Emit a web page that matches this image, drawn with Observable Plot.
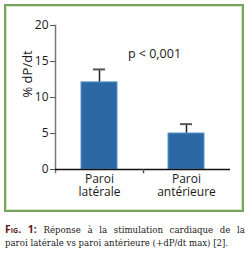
<!DOCTYPE html>
<html>
<head>
<meta charset="utf-8">
<script src="https://cdn.jsdelivr.net/npm/d3@7"></script>
<script src="https://cdn.jsdelivr.net/npm/@observablehq/plot@0.6"></script>
<style>
  html, body { margin: 0; padding: 0; background: #fff; width: 250px; height: 267px; overflow: hidden; }
  #box { position: absolute; left: 4px; top: 4px; width: 240px; height: 208px; box-sizing: border-box;
         border: 2px solid #79a55b; box-shadow: inset 0 0 0 1px #d4e4c8; }
  #chart { position: absolute; left: 0; top: 0; }
  #caption { position: absolute; left: 5px; top: 223px; width: 240px; font-family: "DejaVu Serif", serif;
             font-size: 8.6px; line-height: 12.5px; color: #222; text-align: justify; text-align-last: justify; white-space: nowrap; }
  #caption .fig { font-family: "Open Sans", sans-serif; font-weight: 700; font-variant: small-caps; color: #5e1a1c; font-size: 10.5px; }
  #caption .l2 { text-align-last: left; }
</style>
</head>
<body>
<div id="box"></div>
<div id="chart"></div>
<div id="caption">
  <div><span class="fig">Fig. 1:</span> Réponse à la stimulation cardiaque de la</div>
  <div class="l2">paroi latérale vs paroi antérieure (+dP/dt max) [2].</div>
</div>
<script>
const categories = ["Paroi latérale", "Paroi antérieure"];
const values = [12.1, 5.0];
const errors = [13.9, 6.3];
const yTicks = [0, 5, 10, 15, 20];
const yLabel = "% dP/dt";
const pLabel = "p < 0,001";

const data = categories.map((c, i) => ({cat: c, value: values[i], err: errors[i]}));

const chart = Plot.plot({
  width: 250, height: 215,
  marginLeft: 55, marginRight: 20, marginTop: 25, marginBottom: 46,
  style: {fontFamily: "Open Sans", fontSize: "12px", background: "transparent", color: "#1a1a1a"},
  x: {domain: categories, paddingInner: 0.59, paddingOuter: 0.29, align: 0.5},
  y: {domain: [0, 20]},
  marks: [
    Plot.ruleX(data, {x: "cat", y1: "value", y2: "err", stroke: "#222", strokeWidth: 1.5}),
    Plot.tickY(data, {x: "cat", y: "err", stroke: "#555", strokeWidth: 2, insetLeft: 12, insetRight: 12}),
    Plot.barY(data, {x: "cat", y: "value", fill: "#2c68a6", stroke: "#5a93c8", strokeWidth: 1}),
    Plot.frame({anchor: "left", stroke: "#777", strokeWidth: 1.5, insetBottom: -3}),
    Plot.ruleY([0], {stroke: "#111", strokeWidth: 1.5}),
    Plot.ruleX([categories[0]], {x: d => d, y1: 0, y2: -0.6, dx: 44, stroke: "#555", strokeWidth: 1.5}),
    Plot.axisY({ticks: yTicks, tickSize: 5, tickPadding: 2, label: null, fontSize: 12, fontWeight: 500, stroke: "#555"}),
    Plot.text([yLabel], {frameAnchor: "left", dx: -28, rotate: -90, text: d => d, fontSize: 13}),
    Plot.axisX({tickSize: 0, tickPadding: 5, tickFormat: d => d.split(" ")[0], label: null, fontSize: 12}),
    Plot.axisX({tickSize: 0, tickPadding: 18, tickFormat: d => d.split(" ")[1], label: null, fontSize: 12}),
    Plot.text([pLabel], {x: () => categories[1], y: 16.1, dx: -32, text: d => d, fontSize: 12.5})
  ]
});
document.getElementById("chart").appendChild(chart);
</script>
</body>
</html>
